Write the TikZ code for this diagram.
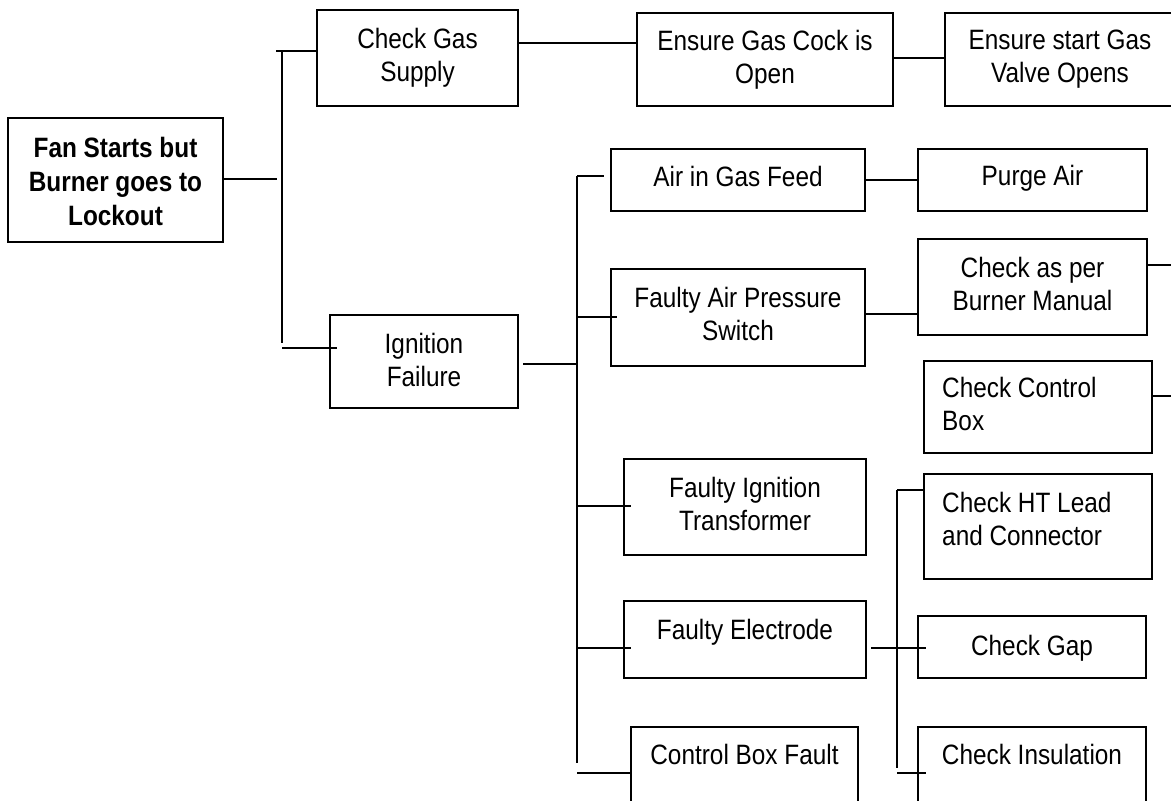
\documentclass[tikz,border=0pt]{standalone}
\usepackage{fontspec}
\setmainfont{Liberation Sans}[FakeStretch=0.87]
\begin{document}
\begin{tikzpicture}[x=1pt,y=-1pt,
  box/.style={draw=black, line width=2.2pt, inner sep=0pt},
  ln/.style={draw=black, line width=2.2pt},
  txt/.style={inner sep=0pt, anchor=north, align=center, font=\fontsize{28}{33}\selectfont},
  ltxt/.style={inner sep=0pt, anchor=north west, align=left, font=\fontsize{28}{33}\selectfont},
  btxt/.style={inner sep=0pt, anchor=north, align=center, font=\fontsize{28}{34}\selectfont\bfseries}]
\useasboundingbox (0,0) rectangle (1171,801);
\clip (0,0) rectangle (1171,801);
\fill[white] (0,0) rectangle (1171,801);
% boxes
\node[box, minimum width=215pt, minimum height=124pt] (root) at (115.5,180) {};
\node[box, minimum width=201pt, minimum height=96pt] (cg) at (417.5,58) {};
\node[box, minimum width=256pt, minimum height=93pt] (egc) at (765,59.5) {};
\node[box, minimum width=245pt, minimum height=93pt] (esg) at (1067.5,59.5) {};
\node[box, minimum width=188pt, minimum height=93pt] (ign) at (424,361.5) {};
\node[box, minimum width=254pt, minimum height=62pt] (aig) at (738,180) {};
\node[box, minimum width=229pt, minimum height=62pt] (pa) at (1032.5,180) {};
\node[box, minimum width=254pt, minimum height=97pt] (fap) at (738,317.5) {};
\node[box, minimum width=229pt, minimum height=96pt] (cap) at (1032.5,287) {};
\node[box, minimum width=228pt, minimum height=92pt] (ccb) at (1038,407) {};
\node[box, minimum width=242pt, minimum height=96pt] (fit) at (745,507) {};
\node[box, minimum width=228pt, minimum height=105pt] (cht) at (1038,526.5) {};
\node[box, minimum width=242pt, minimum height=77pt] (fe) at (745,639.5) {};
\node[box, minimum width=228pt, minimum height=62pt] (gap) at (1032,647) {};
\node[box, minimum width=227pt, minimum height=103pt] (cbf) at (744.5,778.5) {};
\node[box, minimum width=228pt, minimum height=103pt] (ins) at (1032,778.5) {};
% texts
\node[btxt] (troot) at (115.5,137) {Fan Starts but\\Burner goes to\\Lockout};
\node[txt] (tcg) at (417.5,28) {Check Gas\\Supply};
\node[txt] (tegc) at (765,30) {Ensure Gas Cock is\\Open};
\node[txt] (tesg) at (1060,30) {Ensure start Gas\\Valve Opens};
\node[txt] (tign) at (424,333) {Ignition\\Failure};
\node[txt] (taig) at (738,166) {Air in Gas Feed};
\node[txt] (tpa) at (1032.5,165) {Purge Air};
\node[txt] (tfap) at (738,287) {Faulty Air Pressure\\Switch};
\node[txt] (tcap) at (1032.5,257) {Check as per\\Burner Manual};
\node[ltxt] (tccb) at (942,377) {Check Control\\Box};
\node[txt] (tfit) at (745,477) {Faulty Ignition\\Transformer};
\node[ltxt] (tcht) at (942,492) {Check HT Lead\\and Connector};
\node[txt] (tfe) at (745,619) {Faulty Electrode};
\node[txt] (tgap) at (1032,635) {Check Gap};
\node[txt] (tcbf) at (744.5,744) {Control Box Fault};
\node[txt] (tins) at (1032,744) {Check Insulation};
% junction coordinates
\coordinate (j1) at (277,179);
\coordinate (t1a) at (282,51);
\coordinate (t1b) at (282,343);
\coordinate (t1c) at (276,51);
\coordinate (t1d) at (282,348);
\coordinate (t1e) at (337,348);
\coordinate (t2a) at (577,176);
\coordinate (t2b) at (577,763);
\coordinate (t2j) at (577,364);
\coordinate (t2s) at (523,364);
\coordinate (b1) at (604,176);
\coordinate (b2a) at (577,317);
\coordinate (b2b) at (617,317);
\coordinate (b3a) at (577,506);
\coordinate (b3b) at (631,506);
\coordinate (b4a) at (577,648);
\coordinate (b4b) at (631,648);
\coordinate (b5a) at (577,773);
\coordinate (b5b) at (631,773);
\coordinate (g1) at (518,43);
\coordinate (g2) at (637,43);
\coordinate (k1) at (893,58);
\coordinate (f1) at (865,314);
\coordinate (f2) at (918,314);
\coordinate (e1) at (1147,265);
\coordinate (e2) at (1171,265);
\coordinate (e3) at (1152,396);
\coordinate (e4) at (1171,396);
\coordinate (t3a) at (897,490);
\coordinate (t3b) at (897,768);
\coordinate (h1) at (871,648);
\coordinate (h2) at (926,648);
\coordinate (i1) at (897,773);
\coordinate (i2) at (926,773);
% connectors
\draw[ln] (root.east |- j1) -- (j1);
\draw[ln] (t1a) -- (t1b);
\draw[ln] (t1c) -- (t1c -| cg.west);
\draw[ln] (t1d) -- (t1e);
\draw[ln] (g1) -- (g2);
\draw[ln] (k1) -- (k1 -| esg.west);
\draw[ln] (t2s) -- (t2j);
\draw[ln] (t2a) -- (t2b);
\draw[ln] (t2a) -- (b1);
\draw[ln] (b2a) -- (b2b);
\draw[ln] (b3a) -- (b3b);
\draw[ln] (b4a) -- (b4b);
\draw[ln] (b5a) -- (b5b);
\draw[ln] (aig.east) -- (aig.east -| pa.west);
\draw[ln] (f1) -- (f2);
\draw[ln] (e1) -- (e2);
\draw[ln] (e3) -- (e4);
\draw[ln] (t3a) -- (t3b);
\draw[ln] (t3a) -- (t3a -| cht.west);
\draw[ln] (h1) -- (h2);
\draw[ln] (i1) -- (i2);
\end{tikzpicture}
\end{document}
